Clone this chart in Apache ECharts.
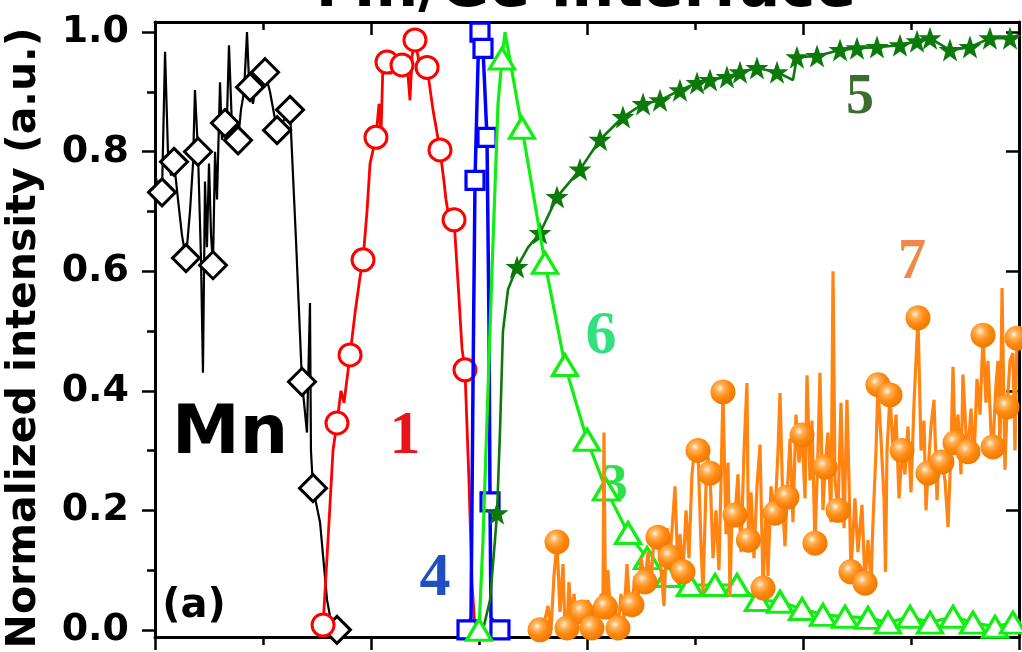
<!DOCTYPE html>
<html><head><meta charset="utf-8">
<script src="https://cdn.jsdelivr.net/npm/echarts@6/dist/echarts.min.js"></script>
<style>html,body{margin:0;padding:0;background:#fff}#c{width:1022px;height:652px}</style>
</head><body><div id="c"></div>
<script>
// Mn (black, diamonds)
const mnX = [0.005,0.028,0.065,0.093,0.120,0.148,0.176,0.213,0.250,0.287,0.324,0.352,0.370,0.398,0.426,0.444,0.463,0.481,0.500,0.519,0.537,0.556,0.574,0.602,0.620,0.648,0.667,0.685,0.713,0.741,0.769,0.796,0.824,0.852,0.870,0.880,0.907,0.954,1.019,1.065,1.130,1.185,1.250,1.306,1.361,1.407,1.435,1.444,1.463,1.528,1.593,1.639,1.685];
const mnY = [0.76,0.74,0.732,0.967,0.80,0.76,0.783,0.72,0.66,0.622,0.70,0.78,0.903,0.80,0.62,0.43,0.75,0.64,0.78,0.66,0.61,0.80,0.72,0.916,0.82,0.848,0.86,0.978,0.84,0.82,0.819,0.87,0.90,1.0,0.92,0.908,0.88,0.93,0.933,0.90,0.836,0.85,0.87,0.65,0.415,0.33,0.547,0.30,0.237,0.18,0.05,0.005,0.0];
const mnMarks = [2,6,9,13,20,25,30,35,38,40,42,44,48,52];

// 1 (red, circles)
const s1X = [1.556,1.602,1.648,1.685,1.722,1.750,1.806,1.852,1.898,1.926,1.963,1.991,2.046,2.074,2.093,2.111,2.148,2.185,2.222,2.287,2.333,2.361,2.380,2.407,2.435,2.463,2.519,2.574,2.639,2.676,2.694,2.713,2.769,2.806,2.843,2.870,2.907,2.935,2.963];
const s1Y = [0.008,0.15,0.30,0.346,0.40,0.38,0.46,0.53,0.59,0.619,0.70,0.78,0.824,0.88,0.83,0.95,0.95,0.93,0.96,0.945,0.95,0.886,0.96,0.987,0.96,0.93,0.941,0.87,0.803,0.75,0.72,0.70,0.686,0.58,0.47,0.435,0.25,0.08,0.0];
const s1Marks = [0,3,6,9,12,16,19,23,26,28,32,35];

// 4 (blue, squares)
const s4X = [2.889,2.926,2.944,2.963,2.991,3.009,3.037,3.074,3.093,3.102,3.111,3.194];
const s4Y = [0,0.02,0.4,0.752,0.95,1.0,0.973,0.824,0.5,0.214,0.02,0];
const s4Marks = [0,3,5,6,7,9,11];

// 6 (light green, triangles)
const s6X = [3.000,3.037,3.120,3.176,3.213,3.241,3.398,3.611,3.796,4.000,4.176,4.380,4.556,4.750,4.954,5.185,5.389,5.583,5.787,5.991,6.185,6.389,6.602,6.787,6.991,7.176,7.389,7.574,7.778,7.944];
const s6Y = [0,0.15,0.6,0.88,0.956,1.0,0.84,0.614,0.443,0.318,0.235,0.162,0.12,0.09,0.075,0.075,0.075,0.05,0.047,0.035,0.025,0.022,0.02,0.012,0.022,0.012,0.022,0.012,0.005,0.012];
const s6Marks = [0,4,6,7,8,9,10,11,12,13,14,15,16,17,18,19,20,21,22,23,24,25,26,27,28,29];

// 5 (dark green, stars)
const s5X = [3.037,3.102,3.148,3.167,3.194,3.222,3.269,3.352,3.454,3.565,3.722,3.935,4.120,4.333,4.519,4.676,4.861,5.019,5.139,5.296,5.417,5.574,5.759,5.907,5.944,6.130,6.343,6.500,6.685,6.898,7.056,7.176,7.361,7.546,7.731,7.917,7.991];
const s5Y = [0,0.05,0.15,0.195,0.33,0.50,0.57,0.607,0.64,0.664,0.724,0.77,0.82,0.858,0.88,0.886,0.903,0.915,0.92,0.925,0.933,0.94,0.933,0.92,0.958,0.96,0.97,0.973,0.975,0.978,0.985,0.99,0.97,0.975,0.99,0.99,0.995];
const s5Marks = [3,7,9,10,11,12,13,14,15,16,17,18,19,20,21,22,24,25,26,27,28,29,30,31,32,33,34,35];

// 7 (orange, balls)
const s7X = [3.565,3.602,3.639,3.667,3.694,3.722,3.750,3.778,3.796,3.815,3.833,3.852,3.880,3.907,3.954,3.981,4.009,4.028,4.046,4.074,4.102,4.130,4.148,4.157,4.171,4.194,4.222,4.250,4.287,4.315,4.343,4.370,4.398,4.417,4.444,4.472,4.500,4.537,4.565,4.593,4.620,4.657,4.685,4.713,4.741,4.769,4.796,4.815,4.843,4.861,4.889,4.917,4.944,4.972,5.000,5.028,5.056,5.074,5.102,5.120,5.139,5.167,5.194,5.222,5.241,5.259,5.287,5.306,5.324,5.343,5.370,5.398,5.426,5.454,5.481,5.495,5.519,5.546,5.574,5.602,5.630,5.657,5.676,5.704,5.741,5.769,5.787,5.815,5.833,5.852,5.880,5.907,5.935,5.963,5.991,6.019,6.037,6.065,6.083,6.111,6.139,6.157,6.185,6.204,6.231,6.259,6.278,6.296,6.324,6.352,6.380,6.407,6.426,6.444,6.481,6.509,6.546,6.574,6.602,6.630,6.648,6.676,6.694,6.722,6.750,6.764,6.778,6.806,6.833,6.861,6.889,6.917,6.944,6.972,7.000,7.028,7.065,7.093,7.120,7.139,7.157,7.185,7.213,7.241,7.259,7.287,7.315,7.343,7.370,7.389,7.407,7.435,7.463,7.481,7.509,7.528,7.556,7.583,7.611,7.639,7.667,7.694,7.713,7.741,7.759,7.787,7.806,7.824,7.843,7.870,7.889,7.917,7.944,7.963,7.981];
const s7Y = [0.0,0.01,0.04,0.0,0.09,0.147,0.03,0.11,0.0,0.003,0.08,0.02,0.06,0.01,0.03,0.0,0.05,0.0,0.003,0.04,0.0,0.06,0.05,0.33,0.038,0.10,0.01,0.05,0.003,0.06,0.02,0.11,0.03,0.042,0.09,0.05,0.12,0.08,0.13,0.07,0.16,0.155,0.10,0.04,0.17,0.122,0.19,0.24,0.09,0.16,0.097,0.20,0.12,0.26,0.31,0.30,0.14,0.062,0.24,0.29,0.262,0.12,0.20,0.10,0.25,0.398,0.16,0.28,0.055,0.20,0.192,0.26,0.13,0.30,0.413,0.15,0.23,0.12,0.24,0.31,0.07,0.20,0.09,0.24,0.195,0.30,0.396,0.20,0.14,0.222,0.32,0.18,0.36,0.28,0.326,0.22,0.426,0.25,0.35,0.145,0.30,0.43,0.20,0.272,0.33,0.18,0.60,0.25,0.20,0.38,0.17,0.385,0.25,0.097,0.22,0.13,0.209,0.078,0.15,0.08,0.18,0.30,0.41,0.32,0.22,0.097,0.30,0.393,0.30,0.36,0.22,0.30,0.26,0.34,0.23,0.38,0.522,0.30,0.35,0.20,0.262,0.34,0.385,0.217,0.30,0.281,0.25,0.172,0.30,0.44,0.313,0.36,0.26,0.427,0.33,0.298,0.37,0.28,0.42,0.36,0.493,0.38,0.45,0.33,0.306,0.41,0.45,0.30,0.572,0.268,0.373,0.45,0.463,0.30,0.488];
const s7Marks = [0,5,9,14,18,24,28,33,37,41,45,50,55,60,65,70,75,80,84,89,94,99,103,108,113,117,122,127,131,136,140,145,150,155,160,164,170,174];

const yMajor = [0, 0.2, 0.4, 0.6, 0.8, 1.0];
const yMinor = [0.1, 0.3, 0.5, 0.7, 0.9];

function pts(xs, ys, marks) {
  const set = new Set(marks);
  return xs.map((x, i) => set.has(i) ? {value: [x, ys[i]]} : {value: [x, ys[i]], symbol: 'none'});
}

const STAR = 'path://M50,0 L62,34 L98,34 L69,56 L80,92 L50,71 L20,92 L31,56 L2,34 L38,34 Z';
const ballColor = {type: 'radial', x: 0.38, y: 0.35, r: 0.65, colorStops: [
  {offset: 0, color: '#fff3e0'}, {offset: 0.25, color: '#ffb35a'}, {offset: 0.6, color: '#ff8a12'}, {offset: 1, color: '#f07a00'}]};

const chart = echarts.init(document.getElementById('c'), null, {renderer: 'canvas'});

const tickStyle = {color: '#000', width: 2.5};
const xBase = {type: 'value', min: 0, max: 8, interval: 2,
  axisLine: {show: true, onZero: false, lineStyle: {color: '#000', width: 3}},
  axisLabel: {show: false}, splitLine: {show: false}};
const yBase = {type: 'value', min: -0.012, max: 1.017, splitLine: {show: false}};

const option = {
  animation: false,
  backgroundColor: '#fff',
  grid: {left: 155, right: 3, top: 22, bottom: 15, containLabel: false},
  xAxis: [
    Object.assign({}, xBase, {position: 'bottom',
      axisTick: {show: true, inside: false, length: 13, lineStyle: tickStyle},
      minorTick: {show: true, splitNumber: 2, length: 8, lineStyle: tickStyle}}),
    Object.assign({}, xBase, {position: 'top',
      axisTick: {show: true, inside: true, length: 13, lineStyle: tickStyle},
      minorTick: {show: true, splitNumber: 2, length: 8, lineStyle: tickStyle}})
  ],
  yAxis: [
    Object.assign({}, yBase, {position: 'left',
      axisLine: {show: true, onZero: false, lineStyle: {color: '#000', width: 3}},
      axisTick: {show: true, inside: false, length: 13, lineStyle: tickStyle, customValues: yMajor},
      axisLabel: {show: true, customValues: yMajor, margin: 26, color: '#000',
        fontFamily: 'DejaVu Sans', fontWeight: 'bold', fontSize: 38,
        formatter: v => Number(v).toFixed(1)}}),
    Object.assign({}, yBase, {position: 'left',
      axisLine: {show: false},
      axisTick: {show: true, inside: false, length: 8, lineStyle: tickStyle, customValues: yMinor},
      axisLabel: {show: false}}),
    Object.assign({}, yBase, {position: 'right',
      axisLine: {show: true, onZero: false, lineStyle: {color: '#000', width: 3}},
      axisTick: {show: true, inside: true, length: 13, lineStyle: tickStyle, customValues: yMajor},
      axisLabel: {show: false}}),
    Object.assign({}, yBase, {position: 'right',
      axisLine: {show: false},
      axisTick: {show: true, inside: true, length: 8, lineStyle: tickStyle, customValues: yMinor},
      axisLabel: {show: false}})
  ],
  graphic: [
    {type: 'text', x: 586, y: 20, z: 1, style: {text: 'Mn/Ge interface', fill: '#000',
      font: 'bold 60px "DejaVu Sans"', textAlign: 'center', textVerticalAlign: 'bottom'}},
    {type: 'text', x: 24, y: 338, rotation: Math.PI / 2, z: 1, style: {text: 'Normalized intensity (a.u.)',
      fill: '#000', font: 'bold 41px "DejaVu Sans"', textAlign: 'center', textVerticalAlign: 'middle'}},
    {type: 'text', x: 230, y: 435, z: 1, style: {text: 'Mn', fill: '#000', font: 'bold 68px "DejaVu Sans"',
      textAlign: 'center', textVerticalAlign: 'middle'}},
    {type: 'text', x: 194, y: 607, z: 1, style: {text: '(a)', fill: '#000', font: 'bold 40px "DejaVu Sans"',
      textAlign: 'center', textVerticalAlign: 'middle'}},
    {type: 'text', x: 405, y: 437, z: 1, style: {text: '1', fill: '#e8141c', font: 'bold 62px "Liberation Serif"',
      textAlign: 'center', textVerticalAlign: 'middle'}},
    {type: 'text', x: 435, y: 579, z: 1, style: {text: '4', fill: '#1f4fc0', font: 'bold 62px "Liberation Serif"',
      textAlign: 'center', textVerticalAlign: 'middle'}},
    {type: 'text', x: 860, y: 99, z: 1, style: {text: '5', fill: '#3b6e2e', font: 'bold 56px "Liberation Serif"',
      textAlign: 'center', textVerticalAlign: 'middle'}},
    {type: 'text', x: 601, y: 337, z: 1, style: {text: '6', fill: '#33e07f', font: 'bold 62px "Liberation Serif"',
      textAlign: 'center', textVerticalAlign: 'middle'}},
    {type: 'text', x: 912, y: 264, z: 1, style: {text: '7', fill: '#f2874a', font: 'bold 56px "Liberation Serif"',
      textAlign: 'center', textVerticalAlign: 'middle'}},
    {type: 'text', x: 614, y: 487, z: 1, style: {text: '3', fill: '#2de04a', font: 'bold 55px "Liberation Serif"',
      textAlign: 'center', textVerticalAlign: 'middle'}}
  ],
  series: [
    {type: 'line', name: 'Mn', data: pts(mnX, mnY, mnMarks), symbol: 'diamond', symbolSize: 27,
      itemStyle: {color: '#fff', borderColor: '#000', borderWidth: 3}, lineStyle: {color: '#000', width: 2.2}, z: 3},
    {type: 'line', name: '1', data: pts(s1X, s1Y, s1Marks), symbol: 'circle', symbolSize: 22,
      itemStyle: {color: '#fff', borderColor: '#ff0000', borderWidth: 3}, lineStyle: {color: '#ff0000', width: 2.8}, z: 4},
    {type: 'line', name: '4', data: pts(s4X, s4Y, s4Marks), symbol: 'rect', symbolSize: 18,
      itemStyle: {color: '#fff', borderColor: '#0000ff', borderWidth: 3.2}, lineStyle: {color: '#0000ff', width: 3.5}, z: 5},
    {type: 'line', name: '5', data: pts(s5X, s5Y, s5Marks), symbol: STAR, symbolSize: 23,
      itemStyle: {color: '#0b7a0b', borderWidth: 0}, lineStyle: {color: '#0b7a0b', width: 2.6}, z: 6},
    {type: 'line', name: '6', data: pts(s6X, s6Y, s6Marks), symbol: 'triangle', symbolSize: [25, 21],
      itemStyle: {color: '#fff', borderColor: '#11ee11', borderWidth: 3.2}, lineStyle: {color: '#11ee11', width: 3.2}, z: 7},
    {type: 'line', name: '7', data: pts(s7X, s7Y, s7Marks), symbol: 'circle', symbolSize: 25,
      itemStyle: {color: ballColor, borderWidth: 0}, lineStyle: {color: '#ff8411', width: 3.2}, z: 8}
  ]
};
chart.setOption(option);
</script>
</body></html>
